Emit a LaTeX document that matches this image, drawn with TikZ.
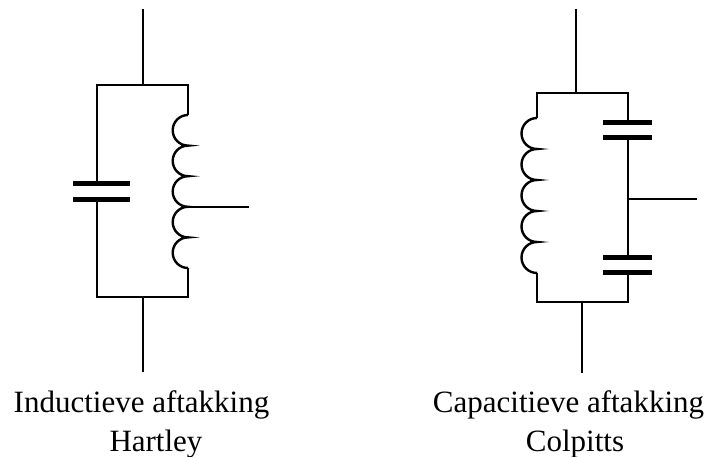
\documentclass[tikz,border=0pt]{standalone}
\usepackage{fontspec}
\setmainfont{Liberation Serif}
\usepackage{tikz}

\begin{document}
\begin{tikzpicture}[x=1pt,y=-1pt,
    wire/.style={line width=2.4pt},
    plate/.style={line width=5pt},
    caption/.style={anchor=base,inner sep=0pt,font=\fontsize{31}{37}\selectfont}]
            \useasboundingbox (0,0) rectangle (712,457);
            % Hartley
            \coordinate (hin) at (143,9);
            \coordinate (htop) at (143,85);
            \coordinate (htl) at (97,85);
            \coordinate (htr) at (188,85);
            \coordinate (hbl) at (97,297);
            \coordinate (hbr) at (188,297);
            \coordinate (hbot) at (143,297);
            \coordinate (hout) at (143,372);
            \coordinate (hc1) at (97,184);
            \coordinate (hc2) at (97,200);
            \coordinate (hl1) at (188,115);
            \coordinate (hl2) at (188,268);
            \coordinate (htap) at (188,206.8);
            \coordinate (htapend) at (249,206.8);
            \draw[wire] (hin) -- (htop);
            \draw[wire] (hc1) -- (htl) -- (htr) -- (hl1);
            \draw[wire] (hl1) \foreach \i in {1,...,5} {arc[start angle=-90,end angle=-270,radius=15.3]} -- (hl2);
            \draw[wire] (hl2) -- (hbr) -- (hbl) -- (hc2);
            \draw[wire] (hbot) -- (hout);
            \draw[wire] (htap) -- (htapend);
            \draw[plate] ([xshift=-24pt]hc1) -- ([xshift=33pt]hc1);
            \draw[plate] ([xshift=-24pt]hc2) -- ([xshift=33pt]hc2);
            % Colpitts
            \coordinate (cin) at (576,9);
            \coordinate (ctop) at (576,93);
            \coordinate (ctl) at (537,93);
            \coordinate (ctr) at (628,93);
            \coordinate (cbl) at (537,302);
            \coordinate (cbr) at (628,302);
            \coordinate (cbot) at (582,302);
            \coordinate (cout) at (582,373);
            \coordinate (cl1) at (537,118);
            \coordinate (cl2) at (537,273);
            \coordinate (cc1) at (628,123);
            \coordinate (cc2) at (628,138);
            \coordinate (cc3) at (628,257);
            \coordinate (cc4) at (628,272);
            \coordinate (ctap) at (628,199);
            \coordinate (ctapend) at (697,199);
            \draw[wire] (cin) -- (ctop);
            \draw[wire] (cl1) -- (ctl) -- (ctr) -- (cc1);
            \draw[wire] (cl1) \foreach \i in {1,...,5} {arc[start angle=-90,end angle=-270,radius=15.5]} -- (cl2);
            \draw[wire] (cl2) -- (cbl) -- (cbr) -- (cc4);
            \draw[wire] (cc2) -- (cc3);
            \draw[wire] (cbot) -- (cout);
            \draw[wire] (ctap) -- (ctapend);
            \foreach \c in {cc1,cc2,cc3,cc4}
                \draw[plate] ([xshift=-25pt]\c) -- ([xshift=24pt]\c);
            % captions
            \node[caption] at (141.5,412) (hname) {Inductieve aftakking};
            \node[caption] at (156,451) (hart) {Hartley};
            \node[caption] at (568.5,412) (cname) {Capacitieve aftakking};
            \node[caption] at (575,451) (colp) {Colpitts};
        \end{tikzpicture}
\end{document}
